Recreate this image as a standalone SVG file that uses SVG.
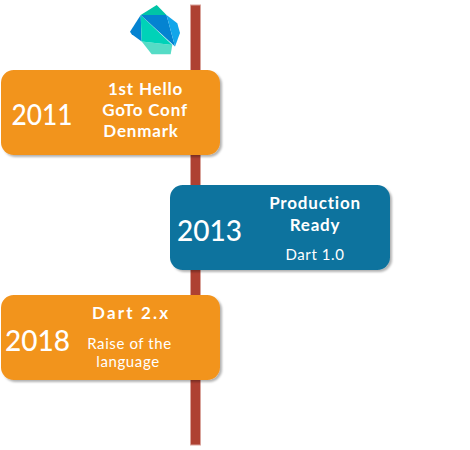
<svg xmlns="http://www.w3.org/2000/svg" width="470" height="450" viewBox="0 0 470 450">
<style>
.box{stroke:none;filter:url(#sh)}
.o{fill:#f2941f}
.b{fill:#10739e}
text{font-family:"Comic Sans MS","Lato","Noto Sans",sans-serif;fill:#fff;text-anchor:middle}
.y{font-size:29px;font-weight:500}
.h{font-size:17px;font-weight:700;letter-spacing:.8px}
.s{font-size:15px;letter-spacing:.6px}
</style>
<defs>
<filter id="sh" x="-5%" y="-10%" width="115%" height="125%">
<feDropShadow dx="2" dy="2" stdDeviation="1" flood-color="#000" flood-opacity="0.3"/>
</filter>
</defs>
<g id="connectors">
<rect x="190.5" y="5" width="10" height="440" fill="#ae4132" stroke="#d9a49c" stroke-width="1"/>
</g>
<g id="logo">
<polygon points="140.7,15 156.7,5 166.5,15" fill="#00c4a7"/>
<polygon points="140.7,15 130,31.7 131.7,34.3 141.7,41.5" fill="#0483d1"/>
<polygon points="141.7,41.5 172.3,45 170.7,54.3 151.7,54.3" fill="#55dcc6"/>
<polygon points="140.7,15 141.7,41.5 172.3,45" fill="#00d2b8"/>
<polygon points="140.7,15 166.5,15 175,46.5" fill="#0483d1"/>
<polygon points="166.5,15 177.3,23.3 180,33 175,46.5" fill="#12a6ea"/>
</g>
<g id="n2011">
<rect class="box o" x="1" y="70" width="219" height="85" rx="12.75"/>
<text class="y" x="42" y="125" textLength="61" lengthAdjust="spacingAndGlyphs">2011</text>
<text class="h" x="145.5" y="95">1st Hello</text>
<text class="h" x="145" y="116">GoTo Conf</text>
<text class="h" x="141" y="137">Denmark</text>
</g>
<g id="n2013">
<rect class="box b" x="170" y="185" width="220" height="85" rx="12.75"/>
<text class="y" x="209.5" y="241" textLength="65" lengthAdjust="spacingAndGlyphs">2013</text>
<text class="h" x="315" y="209">Production</text>
<text class="h" x="315" y="231">Ready</text>
<text class="s" x="315" y="260">Dart 1.0</text>
</g>
<g id="n2018">
<rect class="box o" x="1" y="295" width="219" height="85" rx="12.75"/>
<text class="y" x="37.5" y="351" textLength="65" lengthAdjust="spacingAndGlyphs">2018</text>
<text class="h" x="130.5" y="319" textLength="77">Dart 2.x</text>
<text class="s" x="129.5" y="349">Raise of the</text>
<text class="s" x="128" y="367">language</text>
</g>
</svg>
